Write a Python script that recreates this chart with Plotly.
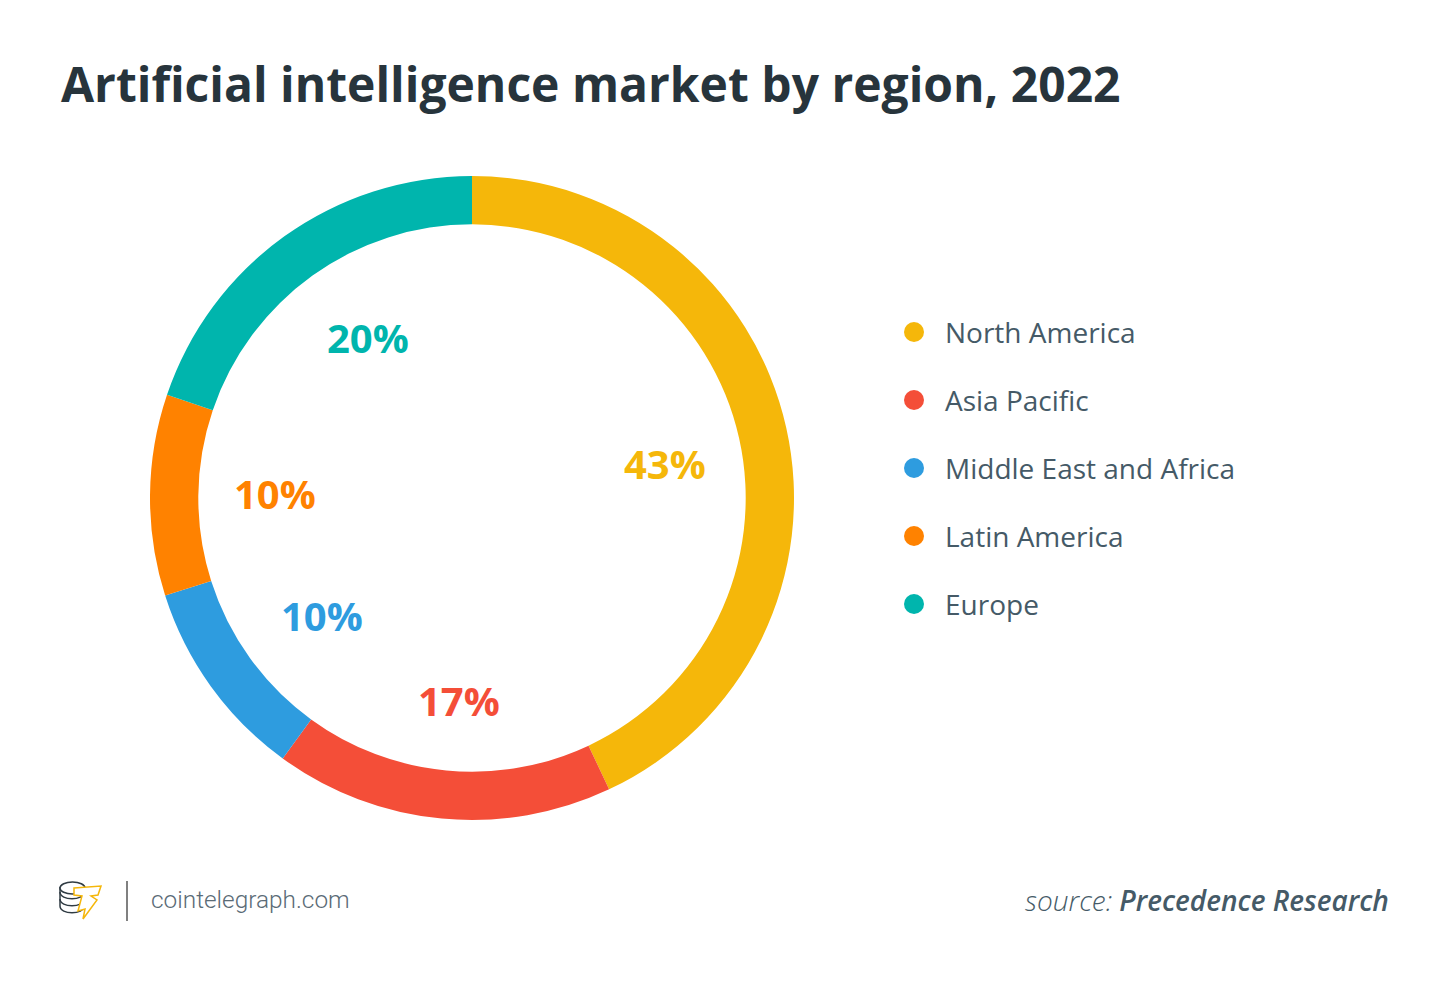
import plotly.graph_objects as go

regiones = ['North America', 'Asia Pacific', 'Middle East and Africa', 'Latin America', 'Europe']
valores = [43, 17, 10.1, 10.1, 19.8]
etiquetas = ['43%', '17%', '10%', '10%', '20%']
colores = ['#F5B70A', '#F44E38', '#2E9CDF', '#FF8200', '#00B5AD']

ANCHO = 1450
ALTO = 981
COLOR_TEXTO = '#455A67'


# pasar de pixeles de la imagen a coordenadas paper
def px(x):
    return x / ANCHO


def py(y):
    return 1 - y / ALTO


def ruta(puntos):
    return 'M ' + ' L '.join(f'{px(x)} {py(y)}' for x, y in puntos) + ' Z'


fig = go.Figure()

# anillo principal
fig.add_trace(go.Pie(
    labels=regiones,
    values=valores,
    hole=0.85,
    sort=False,
    direction='clockwise',
    rotation=0,
    marker=dict(colors=colores, line=dict(width=0)),
    textinfo='none',
    showlegend=False,
    domain=dict(x=[px(150), px(794)], y=[py(820), py(176)]),
))

# porcentajes dentro del anillo
pos_etiquetas = [(665, 463), (459, 700), (322, 615), (275, 493), (368, 337)]
for texto, color, (x, y) in zip(etiquetas, colores, pos_etiquetas):
    fig.add_annotation(x=px(x), y=py(y), xref='paper', yref='paper',
                       xanchor='center', yanchor='middle',
                       text=f'<b>{texto}</b>', showarrow=False,
                       font=dict(size=40, color=color, family='Open Sans'))

# leyenda a mano: puntos y texto
pos_leyenda = [332, 400, 468, 536, 604]
for nombre, color, y in zip(regiones, colores, pos_leyenda):
    fig.add_shape(type='circle', xref='paper', yref='paper',
                  x0=px(904), x1=px(924), y0=py(y + 10), y1=py(y - 10),
                  fillcolor=color, line_width=0)
    fig.add_annotation(x=px(943), y=py(y), xref='paper', yref='paper',
                       xanchor='left', yanchor='middle', text=nombre, showarrow=False,
                       font=dict(size=28, color=COLOR_TEXTO, family='Open Sans'))

# logo: monedas y rayo
for y in [892, 899, 906]:
    fig.add_shape(type='path', xref='paper', yref='paper',
                  path=f'M {px(60)} {py(y)} C {px(60)} {py(y + 9)}, {px(84)} {py(y + 9)}, {px(84)} {py(y)}',
                  line=dict(color='#2F3B43', width=1.5))
fig.add_shape(type='line', xref='paper', yref='paper', x0=px(60), x1=px(60), y0=py(887), y1=py(906),
              line=dict(color='#2F3B43', width=1.5))
fig.add_shape(type='circle', xref='paper', yref='paper', x0=px(60), x1=px(85), y0=py(894), y1=py(882),
              line=dict(color='#2F3B43', width=1.5), fillcolor='white')
rayo = [(74, 888), (101, 886), (98, 895), (91, 896), (97, 900), (83, 919), (85, 909), (78, 911), (82, 896), (74, 895)]
fig.add_shape(type='path', xref='paper', yref='paper', path=ruta(rayo),
              line=dict(color='#F5B70A', width=1.5), fillcolor='white')

# pie de pagina
fig.add_shape(type='line', xref='paper', yref='paper',
              x0=px(127), x1=px(127), y0=py(921), y1=py(881),
              line=dict(color='#808080', width=2))
fig.add_annotation(x=px(149), y=py(899), xref='paper', yref='paper',
                   xanchor='left', yanchor='middle',
                   text='cointelegraph.com', showarrow=False,
                   font=dict(size=24.4, color='#5A6B76', family='Roboto', weight=300))
fig.add_annotation(x=px(1391), y=py(900), xref='paper', yref='paper',
                   xanchor='right', yanchor='middle',
                   text='<i><span style="font-weight:300">source: </span>'
                        '<span style="font-weight:600">Precedence Research</span></i>',
                   showarrow=False,
                   font=dict(size=28, color=COLOR_TEXTO, family='Open Sans'))

fig.update_layout(
    width=ANCHO,
    height=ALTO,
    margin=dict(l=0, r=0, t=0, b=0),
    paper_bgcolor='white',
    plot_bgcolor='white',
    title=dict(text='<b>Artificial intelligence market by region, 2022</b>',
               x=px(61), xanchor='left', y=py(85), yanchor='middle',
               font=dict(size=48, color='#27343C', family='Open Sans')),
)

# sin el margen del body la imagen queda en su sitio
fig.write_html("out.html", post_script="document.body.style.margin='0';",
               config={'displayModeBar': False})
